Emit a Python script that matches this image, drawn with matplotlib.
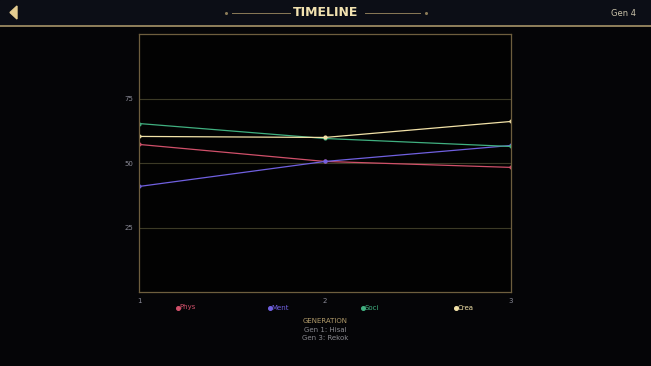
import matplotlib
matplotlib.use("Agg")
import matplotlib.pyplot as plt
from matplotlib.patches import Rectangle, Polygon
from matplotlib.lines import Line2D

generations = [1, 2, 3]
phys = [57.2, 50.6, 48.3]
ment = [40.9, 50.6, 56.8]
soci = [65.3, 59.5, 56.4]
crea = [60.3, 59.9, 66.1]
series_names = ["Phys", "Ment", "Soci", "Crea"]
series_vals = [phys, ment, soci, crea]
series_colors = ["#d0506a", "#7060e0", "#40b080", "#f2e2a8"]
yticks = [25, 50, 75]
subtitle_lines = ["GENERATION", "Gen 1: Hisal", "Gen 3: Rekok"]

W, H = 651, 366
fig = plt.figure(figsize=(W / 100, H / 100), dpi=100)
fig.patch.set_facecolor("#050507")

# header
ov = fig.add_axes([0, 0, 1, 1], zorder=-1)
ov.set_xlim(0, W); ov.set_ylim(H, 0); ov.axis("off")
ov.add_patch(Rectangle((0, 0), W, 25, color="#0c0e16"))
ov.add_line(Line2D([0, W], [25.5, 25.5], color="#a89468", lw=1.2))
ov.add_patch(Polygon([[17, 6], [17, 19], [10, 12.5]], closed=True, color="#e4cc90"))
ov.text(326, 13, "TIMELINE", ha="center", va="center", color="#f2e2b0",
        fontsize=9, fontweight="bold")
ov.add_line(Line2D([232, 290], [13, 13], color="#8a7a58", lw=0.7))
ov.add_line(Line2D([365, 420], [13, 13], color="#8a7a58", lw=0.7))
ov.plot([226, 426], [13, 13], "o", ms=1.2, color="#8a7a58", lw=0)
ov.text(636, 13, "Gen 4", ha="right", va="center", color="#c8c0a8", fontsize=6)

ax = fig.add_axes([139 / W, 1 - 292 / H, (511 - 139) / W, (292 - 34) / H])
ax.set_facecolor("#020202")
for name, vals, c in zip(series_names, series_vals, series_colors):
    ax.plot(generations, vals, color=c, lw=0.9, marker="o", ms=2.0, label=name)
ax.set_xlim(1, 3)
ax.set_ylim(0, 100)
ax.set_xticks(generations)
ax.set_yticks(yticks)
for y in yticks:
    ax.axhline(y, color="#3c3a26", lw=0.8, zorder=0)
for s in ax.spines.values():
    s.set_color("#6e5e3e")
    s.set_linewidth(0.9)
ax.tick_params(colors="#8a8a96", labelsize=5, length=0, pad=4)

# legend
legend_x = [178, 270, 363, 456]
for name, c, lx in zip(series_names, series_colors, legend_x):
    ov.plot([lx], [307.5], "o", ms=2.6, color=c)
    ov.text(lx + 1.5, 307.5, name, color=c, fontsize=5, va="center", ha="left")

ov.text(325, 321, subtitle_lines[0], ha="center", va="center", color="#b09a6a", fontsize=5)
ov.text(325, 329.5, subtitle_lines[1], ha="center", va="center", color="#8a8a90", fontsize=5)
ov.text(325, 338.5, subtitle_lines[2], ha="center", va="center", color="#8a8a90", fontsize=5)

fig.savefig("out.png", dpi=100, facecolor=fig.get_facecolor())
